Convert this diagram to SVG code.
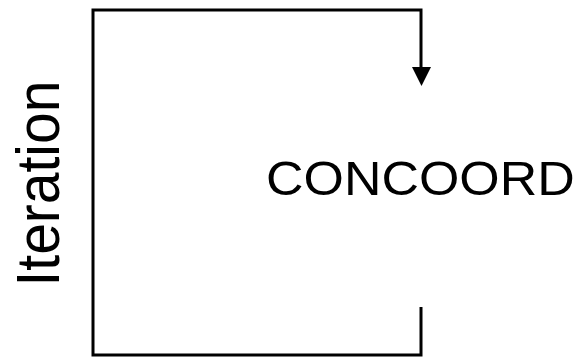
<svg xmlns="http://www.w3.org/2000/svg" width="580" height="358" viewBox="0 0 580 358">
  <defs>
    <style>
      .wire { fill: none; stroke: #000; stroke-width: 3; }
      .label { font-family: "Liberation Sans", Arial, sans-serif; fill: #000; }
    </style>
  </defs>
  <rect width="580" height="358" fill="#fff"/>
  <g id="connectors">
    <!-- feedback loop: out of the bottom, round the left, back in from the top -->
    <path class="wire" d="M421,307 L421,355 L93,355 L93,10 L421,10 L421,70"/>
    <path d="M412,67 L431,67 L421.5,86 z" fill="#000"/>
  </g>
  <g id="node-concoord">
    <text class="label" transform="translate(266,194.5) scale(1.06,1)" font-size="49">CONCOORD</text>
  </g>
  <g id="label-iteration">
    <text class="label" transform="translate(59,286.5) scale(1.06,1) rotate(-90)" font-size="57">Iteration</text>
  </g>
</svg>
